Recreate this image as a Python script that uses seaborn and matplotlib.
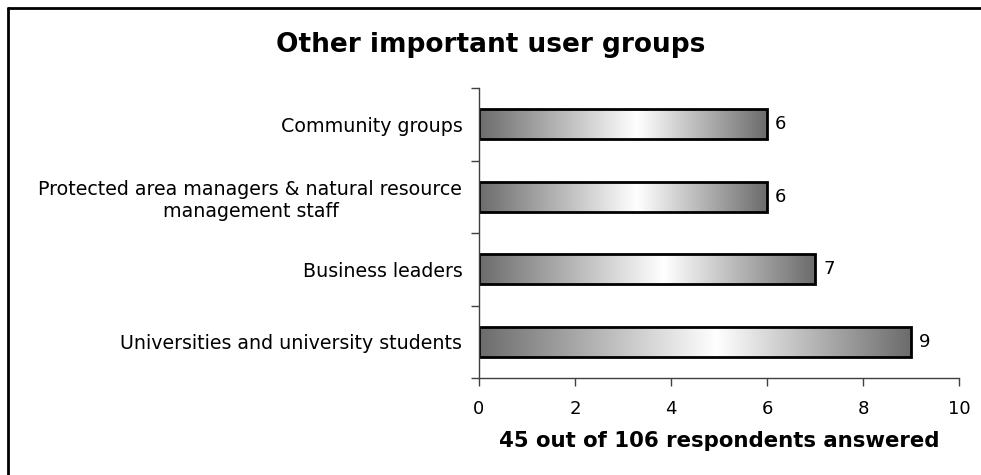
import numpy as np
import pandas as pd
import matplotlib
matplotlib.use("Agg")
import matplotlib.pyplot as plt
from matplotlib.lines import Line2D
from matplotlib.colors import LinearSegmentedColormap
import seaborn as sns

categories = [
    "Community groups",
    "Protected area managers & natural resource\nmanagement staff",
    "Business leaders",
    "Universities and university students",
]
values = [6, 6, 7, 9]
x_ticks = [0, 2, 4, 6, 8, 10]
title = "Other important user groups"
x_label = "45 out of 106 respondents answered"

sns.set_theme(style="white")
plt.rcParams["font.family"] = ["DejaVu Sans"]
plt.rcParams["text.color"] = "black"
plt.rcParams["xtick.color"] = "black"
plt.rcParams["ytick.color"] = "black"
plt.rcParams["axes.labelcolor"] = "black"

df = pd.DataFrame({"category": categories, "value": values})

fig = plt.figure(figsize=(9.81, 4.75), dpi=100)
ax = fig.add_axes([479 / 981, (475 - 378) / 475, (959 - 479) / 981, (378 - 88) / 475])

sns.barplot(data=df, x="value", y="category", orient="h", ax=ax,
            width=0.41, facecolor="none", edgecolor="black", linewidth=2)

cmap = LinearSegmentedColormap.from_list(
    "g", [(0.0, "#6c6c6c"), (0.55, "#ffffff"), (1.0, "#6c6c6c")])
grad = np.linspace(0, 1, 256).reshape(1, -1)
for p in ax.patches:
    x0, y0 = p.get_x(), p.get_y()
    w, h = p.get_width(), p.get_height()
    ax.imshow(grad, cmap=cmap, aspect="auto", extent=(x0, x0 + w, y0 + h, y0),
              interpolation="bicubic", zorder=1)
    p.set_zorder(2)
    ax.text(x0 + w + 0.17, y0 + h / 2, f"{values[int(round(y0 + h / 2))]}",
            va="center", ha="left", fontsize=13, color="black")

ax.set_xlim(0, 10)
ax.set_ylim(3.5, -0.5)
ax.set_xticks(x_ticks)
ax.set_xticklabels([str(t) for t in x_ticks], fontsize=13)
ax.set_yticks([-0.5, 0.5, 1.5, 2.5, 3.5])
ax.set_yticklabels([])
ax.set_yticks(range(len(categories)), minor=True)
ax.set_yticklabels(categories, minor=True, fontsize=13.7, ha="right", multialignment="center")
ax.tick_params(axis="y", which="minor", length=0, pad=12)
ax.tick_params(axis="y", which="major", direction="out", length=6, width=1, color="#404040", left=True)
ax.tick_params(axis="x", direction="out", length=6, width=1, color="#404040", bottom=True, pad=10)
ax.set_xlabel(x_label, fontsize=15.3, fontweight="bold", labelpad=9)
ax.set_ylabel("")
for s in ["top", "right"]:
    ax.spines[s].set_visible(False)
for s in ["left", "bottom"]:
    ax.spines[s].set_color("#404040")
    ax.spines[s].set_linewidth(1)

fig.text(0.5, (475 - 45) / 475, title, ha="center", va="center",
         fontsize=19, fontweight="bold", color="black")

fig.add_artist(Line2D([8 / 981, 1], [1 - 8 / 475, 1 - 8 / 475], color="black", lw=2,
                      transform=fig.transFigure))
fig.add_artist(Line2D([8 / 981, 8 / 981], [0, 1 - 8 / 475], color="black", lw=2,
                      transform=fig.transFigure))

fig.savefig("out.png", dpi=100)
